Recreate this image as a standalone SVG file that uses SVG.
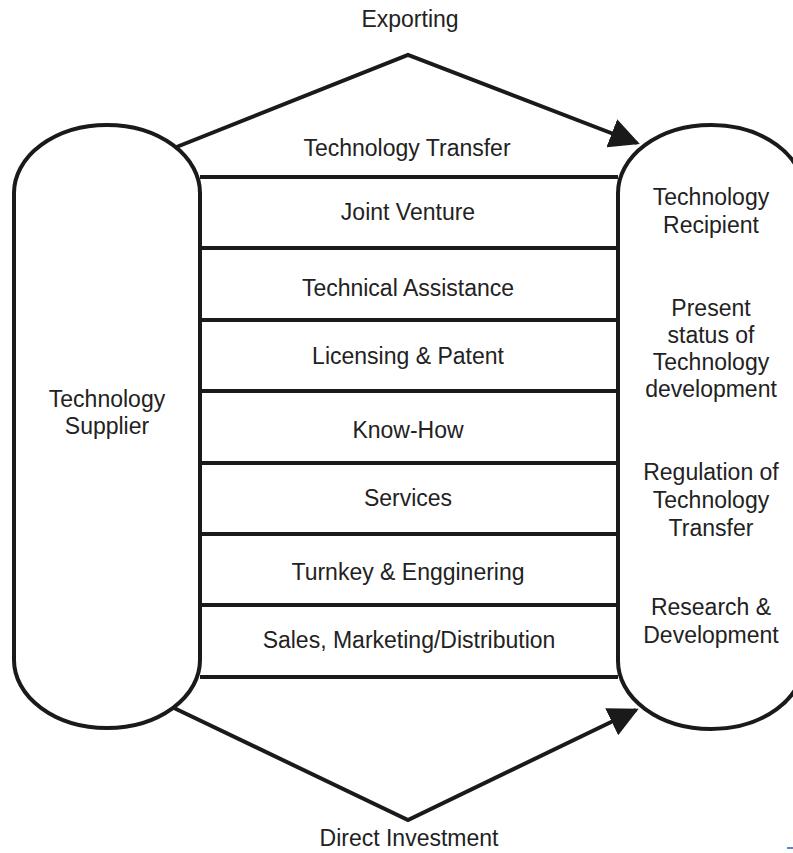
<svg xmlns="http://www.w3.org/2000/svg" width="793" height="853" viewBox="0 0 793 853">
<defs>
<style>
.shape{fill:#fff;stroke:#1a1a1a;stroke-width:4}
.ln{fill:none;stroke:#1a1a1a;stroke-width:4}
.t{font-family:"Liberation Sans",Arial,sans-serif;font-size:23px;fill:#222;text-anchor:middle}
</style>
<marker id="ah" viewBox="0 0 10 10" refX="9" refY="5" markerWidth="7.5" markerHeight="7.5" markerUnits="strokeWidth" orient="auto">
<path d="M0,0 L10,5 L0,10 z" fill="#1a1a1a"/>
</marker>
</defs>
<rect width="793" height="853" fill="#fff"/>
<g id="connectors">
<polyline class="ln" points="174,148 408,55 637,143" marker-end="url(#ah)"/>
<polyline class="ln" points="174,708 408,820 636,710" marker-end="url(#ah)"/>
<line class="ln" x1="200" y1="177" x2="618" y2="177"/>
<line class="ln" x1="200" y1="248" x2="618" y2="248"/>
<line class="ln" x1="200" y1="320" x2="618" y2="320"/>
<line class="ln" x1="200" y1="391" x2="618" y2="391"/>
<line class="ln" x1="200" y1="463" x2="618" y2="463"/>
<line class="ln" x1="200" y1="534" x2="618" y2="534"/>
<line class="ln" x1="200" y1="605" x2="618" y2="605"/>
<line class="ln" x1="200" y1="677" x2="618" y2="677"/>
</g>
<g id="supplier">
<rect class="shape" x="14" y="125" width="186" height="603" rx="93" ry="68"/>
<text class="t" x="107" y="407">Technology</text>
<text class="t" x="107" y="434">Supplier</text>
</g>
<g id="recipient">
<rect class="shape" x="618" y="125" width="186" height="604" rx="93" ry="68"/>
<text class="t" x="711" y="205">Technology</text>
<text class="t" x="711" y="233">Recipient</text>
<text class="t" x="711" y="316">Present</text>
<text class="t" x="711" y="343">status of</text>
<text class="t" x="711" y="370">Technology</text>
<text class="t" x="711" y="397">development</text>
<text class="t" x="711" y="480">Regulation of</text>
<text class="t" x="711" y="508">Technology</text>
<text class="t" x="711" y="536">Transfer</text>
<text class="t" x="711" y="615">Research &amp;</text>
<text class="t" x="711" y="643">Development</text>
</g>
<g id="labels">
<text class="t" x="410" y="27">Exporting</text>
<text class="t" x="407" y="156">Technology Transfer</text>
<text class="t" x="408" y="220">Joint Venture</text>
<text class="t" x="408" y="296">Technical Assistance</text>
<text class="t" x="408" y="364">Licensing &amp; Patent</text>
<text class="t" x="408" y="438">Know-How</text>
<text class="t" x="408" y="506">Services</text>
<text class="t" x="408" y="580">Turnkey &amp; Engginering</text>
<text class="t" x="409" y="648">Sales, Marketing/Distribution</text>
<text class="t" x="409" y="846">Direct Investment</text>
</g>
<line x1="787" y1="848" x2="793" y2="848" stroke="#2a55d0" stroke-width="1.5"/>
</svg>
